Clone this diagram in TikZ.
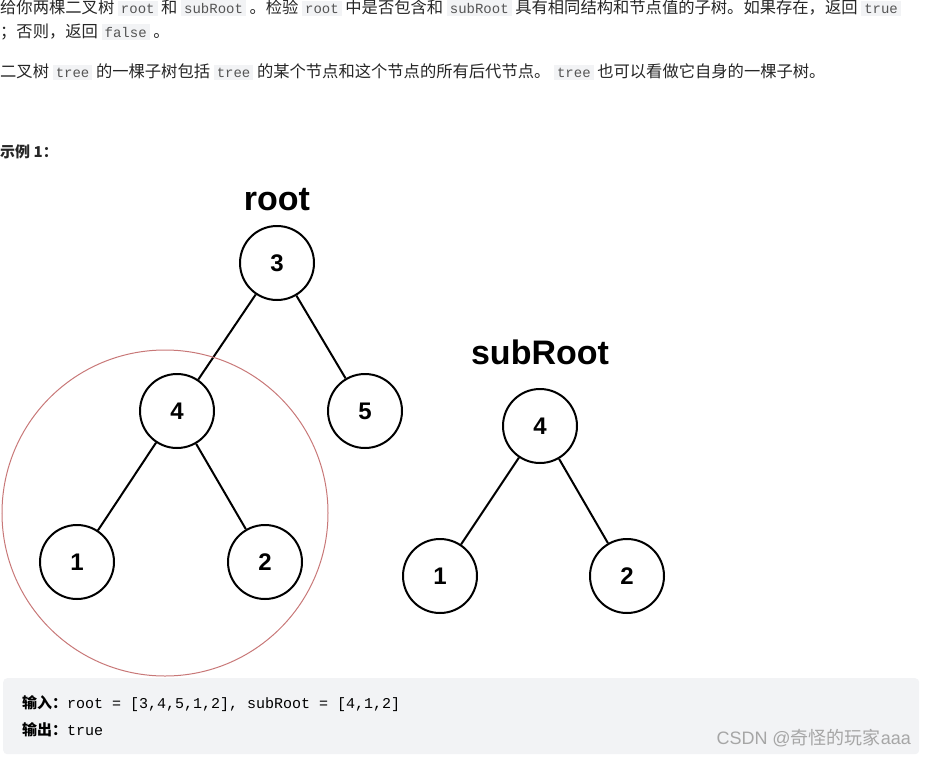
\documentclass[tikz,border=0pt]{standalone}
\usepackage{fontspec}
\setmainfont{Noto Sans CJK SC}
\newfontfamily\codefont{Liberation Mono}
\newfontfamily\lblfont{Liberation Sans}
\definecolor{codebg}{HTML}{F2F3F5}
\definecolor{boxbg}{HTML}{F2F3F5}
\definecolor{circ}{HTML}{C87878}
\newcommand{\cd}[1]{\setlength\fboxsep{3pt}\colorbox{codebg}{\codefont\fontsize{14}{16}\selectfont\color[HTML]{555555}#1}}
\begin{document}
\begin{tikzpicture}[x=1pt,y=-1pt,
  txt/.style={anchor=west,inner sep=0pt,font=\fontsize{16.3}{19}\selectfont,text=black!85},
  tn/.style={circle,draw,line width=2pt,minimum size=74pt,inner sep=0pt,font=\lblfont\bfseries\fontsize{24}{28}\selectfont},
  ed/.style={line width=2pt},
  lbl/.style={font=\lblfont\bfseries\fontsize{34}{38}\selectfont}]
\useasboundingbox (0,0) rectangle (925,757);
\node[txt] (l1) at (0,8) {给你两棵二叉树 \cd{root} 和 \cd{subRoot} 。检验 \cd{root} 中是否包含和 \cd{subRoot} 具有相同结构和节点值的子树。如果存在，返回 \cd{true}};
\node[txt] (l2) at (0,32) {；否则，返回 \cd{false} 。};
\node[txt] (l3) at (0,72) {二叉树 \cd{tree} 的一棵子树包括 \cd{tree} 的某个节点和这个节点的所有后代节点。 \cd{tree} 也可以看做它自身的一棵子树。};
\node[txt,font=\bfseries\fontsize{15}{18}\selectfont] (ex) at (0,152) {示例 1：};
% root tree
\node[lbl] (rl) at (277,200) {root};
\node[tn] (a3) at (277,263) {3};
\node[tn] (a4) at (177,411) {4};
\node[tn] (a5) at (365,411) {5};
\node[tn] (a1) at (77,562) {1};
\node[tn] (a2) at (265,562) {2};
\draw[ed] (a3)--(a4); \draw[ed] (a3)--(a5);
\draw[ed] (a4)--(a1); \draw[ed] (a4)--(a2);
\node[circle,draw=circ,line width=1pt,minimum size=326pt] (hl) at (165,513) {};
% subRoot
\node[lbl] (sl) at (540,352) {subRoot};
\node[tn] (b4) at (540,426) {4};
\node[tn] (b1) at (440,576) {1};
\node[tn] (b2) at (627,576) {2};
\draw[ed] (b4)--(b1); \draw[ed] (b4)--(b2);
% output box
\node[fill=boxbg,rounded corners=4pt,minimum width=916pt,minimum height=76pt,anchor=north west,inner sep=0pt] (box) at (3,678) {};
\node[anchor=west,inner sep=0pt] (in) at (22,704) {\bfseries\fontsize{15}{18}\selectfont 输入：\mdseries\codefont\fontsize{15}{18}\selectfont root = [3,4,5,1,2], subRoot = [4,1,2]};
\node[anchor=west,inner sep=0pt] (out) at (22,730) {\bfseries\fontsize{15}{18}\selectfont 输出：\mdseries\codefont\fontsize{15}{18}\selectfont true};
\node[anchor=east,inner sep=0pt,text=black!35,font=\fontsize{18}{20}\selectfont] (wm) at (911,738) {\lblfont CSDN @\rmfamily 奇怪的玩家\lblfont aaa};
\end{tikzpicture}
\end{document}
